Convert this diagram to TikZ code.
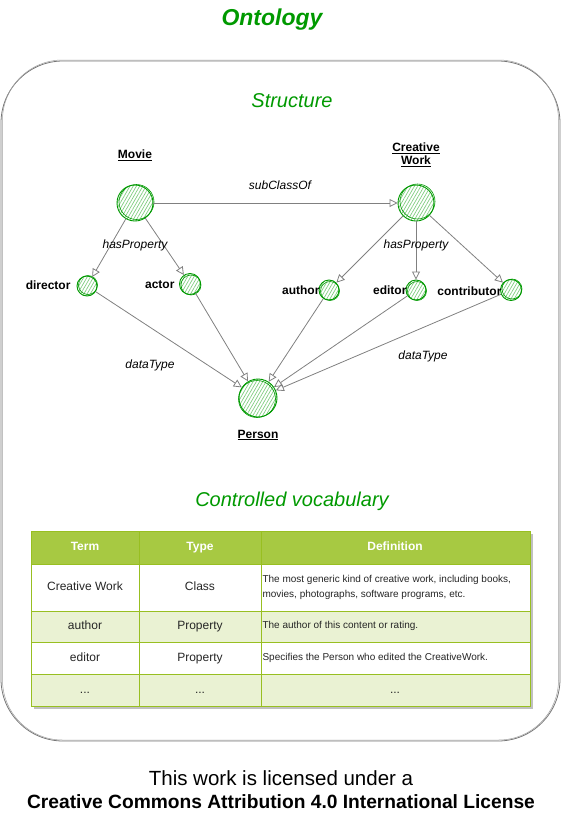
\documentclass[tikz,border=0pt]{standalone}
\usepackage{fontspec}
\setmainfont{Liberation Sans}
\usetikzlibrary{arrows.meta,patterns.meta}
\definecolor{dgreen}{HTML}{009900}
\definecolor{hatchc}{HTML}{80CC80}
\definecolor{egray}{HTML}{808080}
\definecolor{bgray}{HTML}{777777}
\definecolor{thead}{HTML}{A7C942}
\definecolor{tborder}{HTML}{98BF21}
\definecolor{talt}{HTML}{EAF2D3}
\definecolor{tshadow}{HTML}{C0C0C0}
\tikzset{
  cls/.style={circle, draw=dgreen, line width=0.9pt, minimum size=#1, inner sep=0pt,
    pattern={Lines[angle=60,distance=2.8pt,line width=0.7pt]}, pattern color=hatchc},
  lbl/.style={font=\bfseries\fontsize{12}{14}\selectfont, align=center},
  elbl/.style={font=\itshape\fontsize{12}{14}\selectfont},
  conn/.style={draw=egray, line width=0.8pt, -{Triangle[open,length=8pt,width=8pt]}},
  heading/.style={text=dgreen, font=\itshape\fontsize{20}{22}\selectfont},
  cell/.style={font=\fontsize{12}{14}\selectfont, text=black!85, text height=9pt, text depth=2.5pt},
  hcell/.style={font=\bfseries\fontsize{12}{14}\selectfont, text=white, text height=9pt, text depth=2.5pt},
  dcell/.style={font=\fontsize{10}{15}\selectfont, text=black!85, anchor=west, align=left},
}
\begin{document}
\begin{tikzpicture}[x=1pt,y=-1pt]
\useasboundingbox (0,0) rectangle (561,820);
% title
\node[text=dgreen, font=\bfseries\itshape\fontsize{23}{26}\selectfont] (title) at (272,20) {Ontology};
% frame
\draw[bgray, line width=0.8pt, rounded corners=62pt] (1,61) rectangle (560,741);
\draw[bgray!70, line width=0.5pt, rounded corners=60pt] (2.5,60) rectangle (558.5,740);
\node[heading] (structure) at (292,101) {Structure};
% class nodes
\node[cls=36pt] (movie) at (135,203) {};
\node[cls=36pt] (cw) at (416,203) {};
\node[cls=20pt] (director) at (87,286) {};
\node[cls=21pt] (actor) at (190,284) {};
\node[cls=20pt] (author) at (329,290) {};
\node[cls=20pt] (editor) at (416,290) {};
\node[cls=21pt] (contrib) at (511,290) {};
\node[cls=38pt] (person) at (258,398) {};
% sketch strokes
\draw[dgreen, line width=0.6pt] (136.5,202) circle (17.5pt);
\draw[dgreen, line width=0.6pt] (417.5,201.5) circle (17.5pt);
\draw[dgreen, line width=0.6pt] (88,285) circle (9.5pt);
\draw[dgreen, line width=0.6pt] (191,285) circle (10pt);
\draw[dgreen, line width=0.6pt] (330,291) circle (9.5pt);
\draw[dgreen, line width=0.6pt] (417,291) circle (9.5pt);
\draw[dgreen, line width=0.6pt] (512,289) circle (10pt);
\draw[dgreen, line width=0.6pt] (257,399) circle (18.5pt);
% labels
\node[lbl] (lmovie) at (135,155) {\underline{Movie}};
\node[lbl] (lcw) at (416,155) {\underline{Creative}\\[-1pt]\underline{Work}};
\node[lbl, anchor=east] (ldirector) at (74,285) {director};
\node[lbl, anchor=east] (lactor) at (178,285) {actor};
\node[lbl, anchor=east] (lauthor) at (323,290) {author};
\node[lbl, anchor=east] (leditor) at (410,290) {editor};
\node[lbl, anchor=east] (lcontrib) at (505,291) {contributor};
\node[lbl] (lperson) at (258,435) {\underline{Person}};
% connectors
\draw[conn] (movie) -- (cw);
\draw[conn] (movie) -- (director);
\draw[conn] (movie) -- (actor);
\draw[conn] (cw) -- (author);
\draw[conn] (cw) -- (editor);
\draw[conn] (cw) -- (contrib);
\draw[conn] (director) -- (person);
\draw[conn] (actor) -- (person);
\draw[conn] (author) -- (person);
\draw[conn] (editor) -- (person);
\draw[conn] (contrib) -- (person);
% edge labels
\node[elbl] (esub) at (280,185) {subClassOf};
\node[elbl] (ehp1) at (135,245) {hasProperty};
\node[elbl] (ehp2) at (416,245) {hasProperty};
\node[elbl] (edt1) at (150,365) {dataType};
\node[elbl] (edt2) at (423,356) {dataType};
% controlled vocabulary
\node[heading] (cv) at (292,501) {Controlled vocabulary};
% table
\fill[tshadow] (34,534) rectangle (533,709);
\fill[thead] (31,531) rectangle (530,564);
\fill[white] (31,564) rectangle (530,611);
\fill[talt] (31,611) rectangle (530,642);
\fill[white] (31,642) rectangle (530,674);
\fill[talt] (31,674) rectangle (530,706);
\draw[tborder, line width=0.8pt] (31,531) rectangle (530,706);
\draw[tborder, line width=0.8pt] (139,531) -- (139,706) (261,531) -- (261,706);
\draw[tborder, line width=0.8pt] (31,564) -- (530,564) (31,611) -- (530,611) (31,642) -- (530,642) (31,674) -- (530,674);
\node[hcell] (h1) at (85,547) {Term};
\node[hcell] (h2) at (200,547) {Type};
\node[hcell] (h3) at (395,547) {Definition};
\node[cell] (r1a) at (85,587) {Creative Work};
\node[cell] (r1b) at (200,587) {Class};
\node[dcell] (r1c) at (259,587.5) {The most generic kind of creative work, including books,\\movies, photographs, software programs, etc.};
\node[cell] (r2a) at (85,626) {author};
\node[cell] (r2b) at (200,626) {Property};
\node[dcell] (r2c) at (259,626) {The author of this content or rating.};
\node[cell] (r3a) at (85,658) {editor};
\node[cell] (r3b) at (200,658) {Property};
\node[dcell] (r3c) at (259,658) {Specifies the Person who edited the CreativeWork.};
\node[cell] (r4a) at (85,690) {...};
\node[cell] (r4b) at (200,690) {...};
\node[cell] (r4c) at (395,690) {...};
% footer
\node[font=\fontsize{20.5}{22}\selectfont] (f1) at (281,778) {This work is licensed under a};
\node[font=\bfseries\fontsize{19.2}{21}\selectfont] (f2) at (281,802) {Creative Commons Attribution 4.0 International License};
\end{tikzpicture}
\end{document}
